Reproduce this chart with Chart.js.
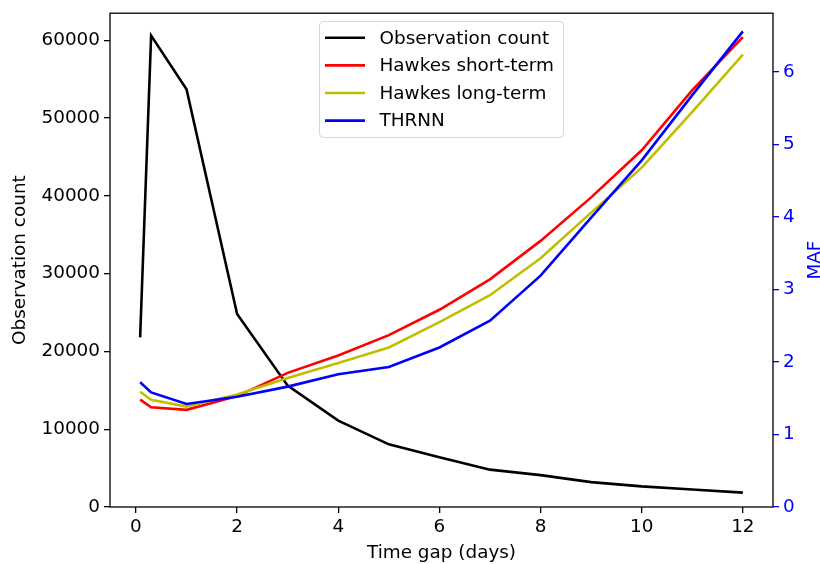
<!DOCTYPE html>
<html>
<head>
<meta charset="utf-8">
<script src="https://cdn.jsdelivr.net/npm/chart.js@4.4.0/dist/chart.umd.min.js"></script>
<style>
  html, body { margin: 0; padding: 0; background: #fff; }
  #wrap { width: 820px; height: 564px; }
</style>
</head>
<body>
<div id="wrap"><canvas id="chart" width="820" height="564"></canvas></div>
<script>
// values
const timeGap = [0.083, 0.3, 1, 2, 3, 4, 5, 6, 7, 8, 9, 10, 11, 12];
const obsCount = [21800, 60600, 53700, 24800, 15600, 11100, 8050, 6400, 4800, 4100, 3200, 2650, 2250, 1850];
const hawkesShort = [1.48, 1.375, 1.34, 1.53, 1.85, 2.09, 2.37, 2.72, 3.14, 3.67, 4.27, 4.92, 5.75, 6.48];
const hawkesLong = [1.59, 1.48, 1.385, 1.55, 1.78, 1.985, 2.2, 2.55, 2.92, 3.43, 4.06, 4.68, 5.45, 6.24];
const thrnn = [1.72, 1.58, 1.42, 1.52, 1.66, 1.83, 1.93, 2.2, 2.57, 3.19, 3.99, 4.78, 5.68, 6.56];

const xTicks = [0, 2, 4, 6, 8, 10, 12];
const countTicks = [0, 10000, 20000, 30000, 40000, 50000, 60000];
const mafTicks = [0, 1, 2, 3, 4, 5, 6];

const FONT = 'DejaVu Sans';
const FS = 18.4;

const pts = ys => ys.map((y, i) => ({ x: timeGap[i], y }));

function line(label, ys, color, axis, order) {
    return {
        label, data: pts(ys), yAxisID: axis, order,
        borderColor: color, backgroundColor: color,
        borderWidth: 2.6, pointRadius: 0, tension: 0, fill: false
    };
}

// full box frame, right axis title (rotated like matplotlib) and legend
const framePlugin = {
    id: 'frame',
    afterDatasetsDraw(chart) {
        const { ctx, chartArea: a } = chart;
        ctx.save();
        ctx.strokeStyle = '#000';
        ctx.lineWidth = 1.3;
        ctx.strokeRect(a.left, a.top, a.right - a.left, a.bottom - a.top);

        ctx.font = `${FS}px "${FONT}"`;
        ctx.save();
        ctx.translate(815, (a.top + a.bottom) / 2);
        ctx.rotate(-Math.PI / 2);
        ctx.textAlign = 'center';
        ctx.textBaseline = 'middle';
        ctx.fillStyle = '#0000ff';
        ctx.fillText('MAF', 0, 0);
        ctx.restore();

        // legend
        const ds = chart.data.datasets;
        const bx = 319.5, by = 21.5, bw = 244, bh = 116, r = 4;
        ctx.beginPath();
        ctx.moveTo(bx + r, by);
        ctx.arcTo(bx + bw, by, bx + bw, by + bh, r);
        ctx.arcTo(bx + bw, by + bh, bx, by + bh, r);
        ctx.arcTo(bx, by + bh, bx, by, r);
        ctx.arcTo(bx, by, bx + bw, by, r);
        ctx.closePath();
        ctx.fillStyle = 'rgba(255,255,255,0.8)';
        ctx.fill();
        ctx.strokeStyle = '#d5d5d5';
        ctx.lineWidth = 1;
        ctx.stroke();

        ctx.textBaseline = 'middle';
        ctx.textAlign = 'left';
        ctx.fillStyle = '#000';
        ds.forEach((d, i) => {
            const y = 37.8 + i * 27.6;
            ctx.beginPath();
            ctx.moveTo(325, y);
            ctx.lineTo(365, y);
            ctx.strokeStyle = d.borderColor;
            ctx.lineWidth = 2.6;
            ctx.stroke();
            ctx.fillText(d.label, 379.5, y + 1);
        });
        ctx.restore();
    }
};

const tickFont = { family: FONT, size: FS };
const yTickFont = { family: FONT, size: FS, lineHeight: 1 };

new Chart(document.getElementById('chart'), {
    type: 'line',
    data: {
        datasets: [
            line('Observation count', obsCount, '#000000', 'y', 3),
            line('Hawkes short-term', hawkesShort, '#ff0000', 'y1', 2),
            line('Hawkes long-term', hawkesLong, '#bfbf00', 'y1', 1),
            line('THRNN', thrnn, '#0000ff', 'y1', 0)
        ]
    },
    options: {
        responsive: false,
        animation: false,
        layout: { padding: { top: 12, left: 0, right: 0, bottom: 0 } },
        plugins: { legend: { display: false }, tooltip: { enabled: false } },
        scales: {
            x: {
                type: 'linear',
                min: -0.513, max: 12.596,
                afterBuildTicks: s => { s.ticks = xTicks.map(v => ({ value: v })); },
                afterFit: s => { s.height = 57; },
                border: { display: false },
                grid: { drawOnChartArea: false, drawTicks: true, tickLength: 6, color: '#000', lineWidth: 1.3 },
                ticks: { font: tickFont, color: '#000', padding: 3, maxRotation: 0 },
                title: { display: true, text: 'Time gap (days)', font: tickFont, color: '#000', padding: { top: 0, bottom: 0 } }
            },
            y: {
                position: 'left',
                min: 0, max: 63480,
                afterBuildTicks: s => { s.ticks = countTicks.map(v => ({ value: v })); },
                afterFit: s => { s.width = 110; },
                border: { display: false },
                grid: { drawOnChartArea: false, drawTicks: true, tickLength: 6, color: '#000', lineWidth: 1.3 },
                ticks: { font: yTickFont, color: '#000', padding: 4, callback: v => String(v) },
                title: { display: true, text: 'Observation count', font: tickFont, color: '#000', padding: { top: 9, bottom: 0 } }
            },
            y1: {
                position: 'right',
                min: 0, max: 6.81,
                afterBuildTicks: s => { s.ticks = mafTicks.map(v => ({ value: v })); },
                afterFit: s => { s.width = 47; },
                border: { display: false },
                grid: { drawOnChartArea: false, drawTicks: true, tickLength: 6, color: '#0000ff', lineWidth: 1.3 },
                ticks: { font: yTickFont, color: '#0000ff', padding: 4, callback: v => String(v) }
            }
        }
    },
    plugins: [framePlugin]
});
</script>
</body>
</html>
